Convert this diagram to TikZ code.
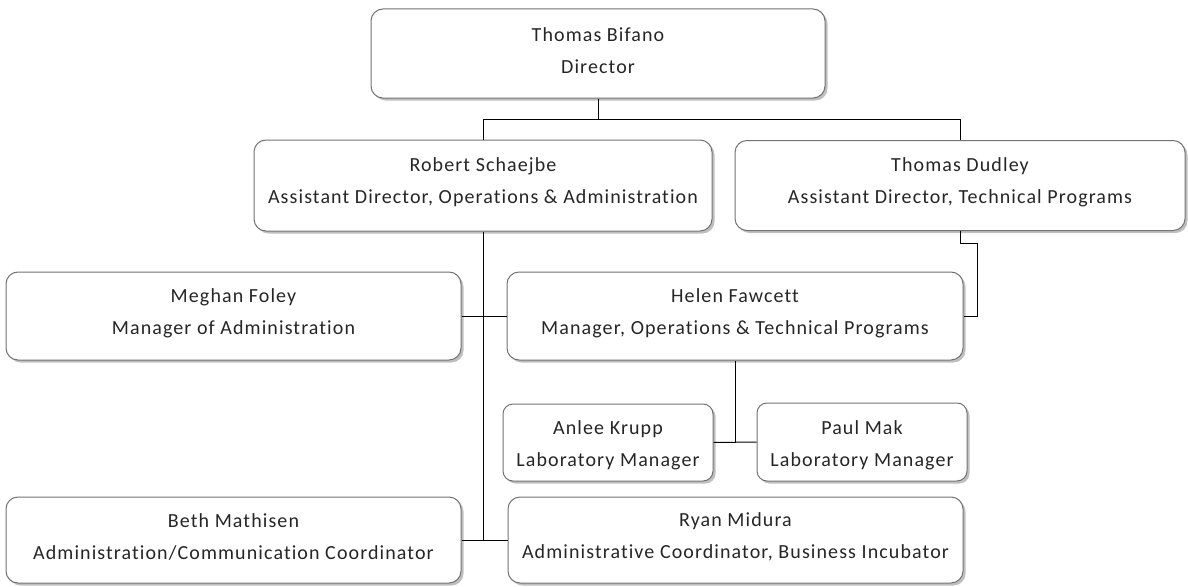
\documentclass[tikz,border=0pt]{standalone}
\usepackage{fontspec}
\setmainfont{Carlito}[LetterSpace=5.5, Ligatures=CommonOff]
\usetikzlibrary{shadows}
\begin{document}
\begin{tikzpicture}[x=1pt,y=-1pt,
  box/.style={draw=black!55, line width=1pt, fill=white, rounded corners=12pt,
    inner sep=0pt,
    drop shadow={shadow xshift=2.5pt, shadow yshift=-2.5pt, fill=black!25, opacity=1}},
  lbl/.style={align=center, inner sep=0pt, text=black!85, yshift=3pt,
    font=\fontsize{20}{32}\selectfont},
  slbl/.style={lbl, yshift=-6pt},
  wire/.style={draw=black, line width=1pt}]
\useasboundingbox (0,0) rectangle (1188,586);
\node[box, minimum width=454pt, minimum height=89pt, label={[lbl]center:{Thomas Bifano\\Director}}] (dir) at (598,53.5) {};
\node[box, minimum width=458pt, minimum height=91pt, label={[lbl]center:{Robert Schaejbe\\Assistant Director, Operations \& Administration}}] (rob) at (483,185.5) {};
\node[box, minimum width=450pt, minimum height=90pt, label={[lbl]center:{Thomas Dudley\\Assistant Director, Technical Programs}}] (dud) at (960,185.5) {};
\node[box, minimum width=455pt, minimum height=88pt, label={[lbl]center:{Meghan Foley\\Manager of Administration}}] (meg) at (233.5,316) {};
\node[box, minimum width=456pt, minimum height=88pt, label={[lbl]center:{Helen Fawcett\\Manager, Operations \& Technical Programs}}] (hel) at (735,316) {};
\node[box, minimum width=210pt, minimum height=77pt, rounded corners=10pt, label={[slbl]center:{Anlee Krupp\\Laboratory Manager}}] (ank) at (608,442.5) {};
\node[box, minimum width=210pt, minimum height=78pt, rounded corners=10pt, label={[slbl]center:{Paul Mak\\Laboratory Manager}}] (pau) at (862,442) {};
\node[box, minimum width=455pt, minimum height=86pt, label={[lbl]center:{Beth Mathisen\\Administration/Communication Coordinator}}] (bet) at (233.5,540) {};
\node[box, minimum width=455pt, minimum height=86pt, label={[lbl]center:{Ryan Midura\\Administrative Coordinator, Business Incubator}}] (rya) at (735.5,540) {};
\coordinate (top) at (598,119);
\coordinate (dj) at (977,243);
\draw[wire] (dir.south) -- (top) -| (rob.north);
\draw[wire] (top) -| (dud.north);
\draw[wire] (dud.south) |- (dj) |- (hel.east);
\draw[wire] (rob.south) -- (rob.south |- bet.east);
\draw[wire] (meg.east) -- (hel.west);
\draw[wire] (bet.east) -- (rya.west);
\draw[wire] (hel.south) -- (hel.south |- ank.east);
\draw[wire] (ank.east) -- (pau.west);
\end{tikzpicture}
\end{document}
